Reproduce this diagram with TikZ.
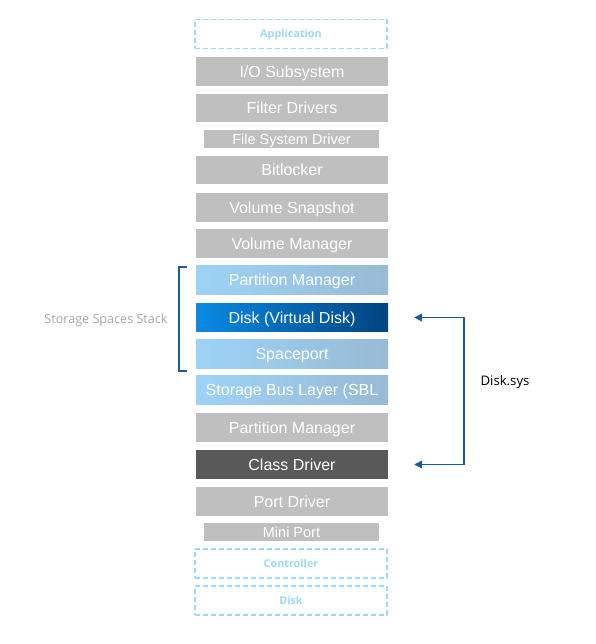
\documentclass[tikz,border=0pt]{standalone}
\usepackage{fontspec}
\setmainfont{Liberation Sans}
\newfontfamily\labelfont{Open Sans}
\usetikzlibrary{arrows.meta}
\definecolor{boxgray}{HTML}{BFBFBF}
\definecolor{darkbox}{HTML}{595959}
\definecolor{lightA}{HTML}{9DD3F7}
\definecolor{lightB}{HTML}{98BAD4}
\definecolor{deepA}{HTML}{0A8AE4}
\definecolor{deepB}{HTML}{004480}
\definecolor{dashblue}{HTML}{9DDAF5}
\definecolor{linkblue}{HTML}{1A5C9E}
\definecolor{labelgray}{HTML}{A6A6A6}
\tikzset{
  layer/.style={inner sep=0pt, minimum width=192pt, minimum height=28.5pt, text height=11.5pt, text depth=0pt, text=white, font=\fontsize{16}{18}\selectfont},
  graybox/.style={layer, fill=boxgray},
  smallbox/.style={layer, fill=boxgray, minimum width=175pt, minimum height=18pt, text height=10.4pt, font=\fontsize{14.5}{16}\selectfont},
  lightbox/.style={layer, left color=lightA, right color=lightB},
  deepbox/.style={layer, left color=deepA, right color=deepB},
  darkbox/.style={layer, fill=darkbox},
  hwbox/.style={inner sep=0pt, minimum width=192pt, minimum height=29pt, text height=7.8pt, text depth=0pt, draw=dashblue, line width=1.5pt, dash pattern=on 5pt off 3pt, text=dashblue, font=\labelfont\bfseries\fontsize{10.8}{12}\selectfont},
  link/.style={draw=linkblue, line width=1.6pt, {Triangle[length=8pt,width=8pt]}-{Triangle[length=8pt,width=8pt]}},
}
\begin{document}
\begin{tikzpicture}[x=1pt,y=-1pt]
\useasboundingbox (0,0) rectangle (595,644);
\node[hwbox] (app) at (291,34) {Application};
\node[graybox] (io) at (292,71.5) {I/O Subsystem};
\node[graybox] (filter) at (292,108) {Filter Drivers};
\node[smallbox] (fsd) at (291.5,139) {File System Driver};
\node[graybox] (bit) at (292,170) {Bitlocker};
\node[graybox] (vs) at (292,207.5) {Volume Snapshot};
\node[graybox] (vm) at (292,243.5) {Volume Manager};
\node[lightbox] (pm1) at (292,280) {Partition Manager};
\node[deepbox] (vdisk) at (292,317.5) {Disk (Virtual Disk)};
\node[lightbox] (sp) at (292,354) {Spaceport};
\node[lightbox] (sbl) at (292,390) {Storage Bus Layer (SBL};
\node[graybox] (pm2) at (292,427.5) {Partition Manager};
\node[darkbox] (cd) at (292,464.5) {Class Driver};
\node[graybox] (pd) at (292,501.5) {Port Driver};
\node[smallbox] (mp) at (291.5,532) {Mini Port};
\node[hwbox] (ctrl) at (291,563.5) {Controller};
\node[hwbox] (dk) at (291,600.5) {Disk};
% bracket
\draw[draw=linkblue, line width=1.6pt] (187,267) -- (179,267) -- (179,371) -- (187,371);
\node[text=labelgray, font=\labelfont\fontsize{12.6}{14}\selectfont] (sss) at (106,320) {Storage Spaces Stack};
% Disk.sys connector
\coordinate (ta) at ([xshift=26pt]vdisk.east);
\coordinate (tb) at ([xshift=26pt]cd.east);
\draw[link] (ta) -- ++(50,0) |- (tb);
\node[anchor=west, font=\labelfont\fontsize{13.2}{15}\selectfont] (dsys) at (477,382) {Disk.sys};
\end{tikzpicture}
\end{document}
